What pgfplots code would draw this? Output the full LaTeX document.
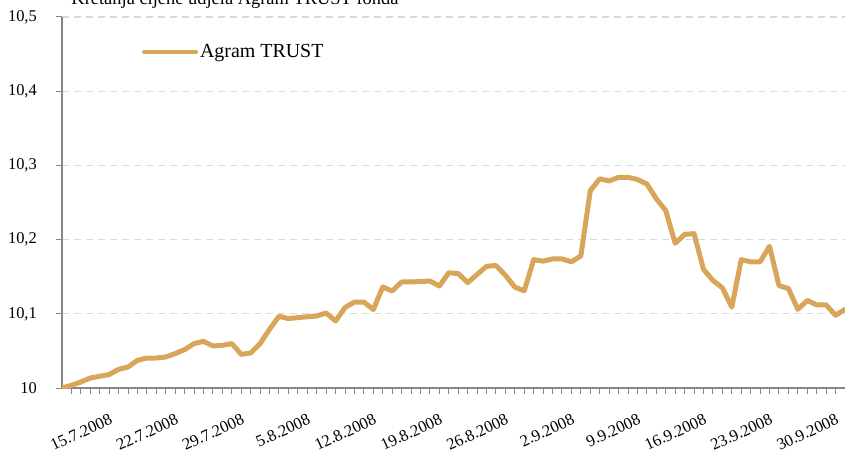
\documentclass[border=0pt]{standalone}
\usepackage{pgfplots}
\pgfplotsset{compat=1.18}
\usepackage{pgfplotstable}
\usepackage{fontspec}
\setmainfont{Liberation Serif}
\definecolor{lineC}{HTML}{D9A55B}
\definecolor{axC}{HTML}{868686}
\definecolor{gridC}{HTML}{D9D9D9}
\pgfplotstableread{
i y
0 10.0000
1 10.0036
2 10.0081
3 10.0135
4 10.0158
5 10.0181
6 10.0252
7 10.0283
8 10.0373
9 10.0404
10 10.0404
11 10.0418
12 10.0464
13 10.0518
14 10.0598
15 10.0629
16 10.0566
17 10.0575
18 10.0598
19 10.0454
20 10.0472
21 10.0598
22 10.0791
23 10.0966
24 10.0935
25 10.0949
26 10.0960
27 10.0970
28 10.1011
29 10.0903
30 10.1084
31 10.1159
32 10.1159
33 10.1057
34 10.1361
35 10.1307
36 10.1429
37 10.1429
38 10.1435
39 10.1442
40 10.1375
41 10.1553
42 10.1542
43 10.1420
44 10.1530
45 10.1640
46 10.1650
47 10.1520
48 10.1360
49 10.1310
50 10.1730
51 10.1710
52 10.1740
53 10.1740
54 10.1700
55 10.1780
56 10.2660
57 10.2820
58 10.2790
59 10.2840
60 10.2840
61 10.2810
62 10.2750
63 10.2550
64 10.2390
65 10.1950
66 10.2070
67 10.2080
68 10.1600
69 10.1450
70 10.1350
71 10.1090
72 10.1730
73 10.1700
74 10.1700
75 10.1910
76 10.1380
77 10.1340
78 10.1060
79 10.1180
80 10.1120
81 10.1120
82 10.0980
83 10.1060
}\agram
\begin{document}
\begin{tikzpicture}
\begin{axis}[
  scale only axis, width=783bp, height=371bp,
  xmin=0, xmax=83, ymin=10, ymax=10.5,
  axis lines=left,
  axis line style={axC, line width=1.3bp, -},
  xtick={6,13,20,27,34,41,48,55,62,69,76,83},
  xticklabels={15.7.2008,22.7.2008,29.7.2008,5.8.2008,12.8.2008,19.8.2008,26.8.2008,2.9.2008,9.9.2008,16.9.2008,23.9.2008,30.9.2008},
  minor xtick={1,...,82},
  ytick={10,10.1,10.2,10.3,10.4,10.5},
  yticklabels={10,{10,1},{10,2},{10,3},{10,4},{10,5}},
  tick align=outside,
  major tick length=6bp, minor tick length=6bp,
  every tick/.style={axC, line width=1bp},
  ymajorgrids,
  major grid style={gridC, line width=1.3bp, dash pattern=on 7bp off 5bp},
  xticklabel style={rotate=25, anchor=north east, inner sep=0pt, font=\fontsize{16.5}{18}\selectfont, yshift=-13bp, xshift=-17bp},
  yticklabel style={font=\fontsize{16.5}{18}\selectfont, inner sep=0pt, xshift=-19bp},
  legend style={at={(0.102,0.9065)}, anchor=west, draw=none, fill=none, inner sep=0pt,
    font=\fontsize{20}{24}\selectfont},
  legend image code/.code={\draw[lineC, line width=4bp] (0bp,0bp) -- (52bp,0bp);},
]
\addplot[lineC, line width=5bp, line join=round, line cap=round] table[x=i, y=y] {\agram};
\addlegendentry{Agram TRUST}
\coordinate (bl) at (rel axis cs:0,0);
\coordinate (tr) at (rel axis cs:1,1);
\end{axis}
\node[anchor=base, font=\fontsize{18.5}{20}\selectfont] at ([xshift=-610bp, yshift=12bp]tr) {Kretanja cijene udjela Agram TRUST fonda};
\pgfresetboundingbox
\path[use as bounding box] ([xshift=-62bp, yshift=-67bp]bl) rectangle ([yshift=17bp]tr);
\end{tikzpicture}
\end{document}
